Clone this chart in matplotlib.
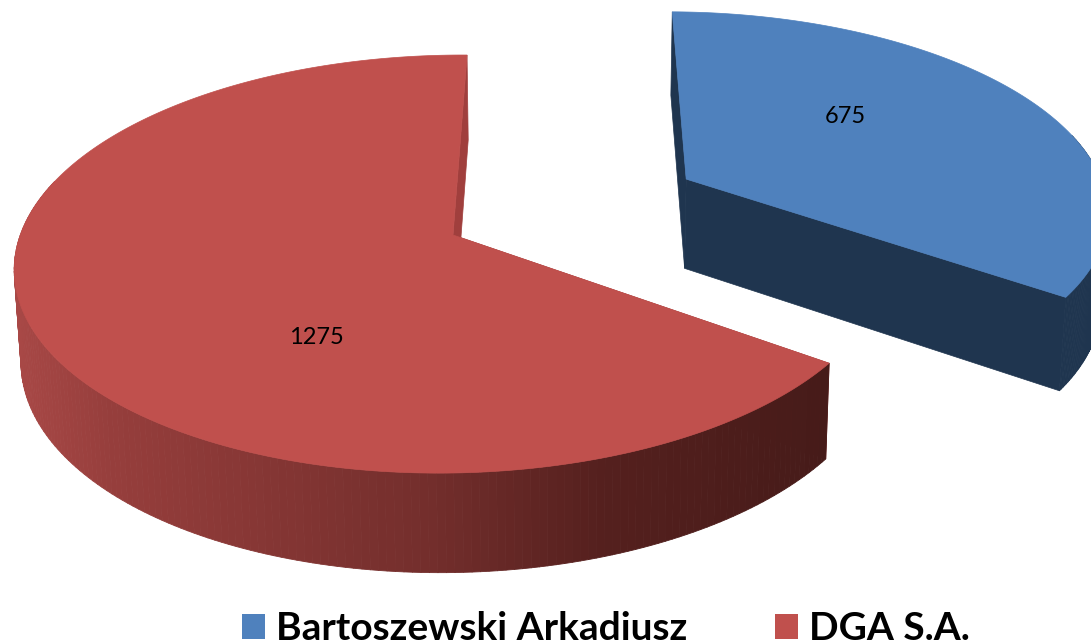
import numpy as np
import matplotlib
matplotlib.use("Agg")
import matplotlib.pyplot as plt
from matplotlib.patches import Polygon, Patch
from matplotlib.collections import PolyCollection

categories = ["Bartoszewski Arkadiusz", "DGA S.A."]
values = [675, 1275]
top_colors = ["#4F81BD", "#C0504D"]
inner_colors = ["#1F354F", "#A03F3D"]
explode = [0.622, 0.0]
label_pos = [(845, 116), (316, 337)]

# perspective projection of the unit-radius pie plane to pixels
CX, CY = 453.0, 235.0
A, C, D, B, K = 432.0, -16.0, 2.0, 205.0, 0.139


def project(u, v):
    w = 1 - K * v
    return CX + (A * u + C * v) / w, CY + (D * u + B * v) / w


def lower(x, y):
    return x + 0.0125 * (560 - x), y + 83 + 0.035 * y


def wall_color_red(x):
    xs = [14, 110, 250, 430, 600, 830]
    r = [168, 150, 135, 115, 85, 70]
    g = [72, 62, 55, 46, 32, 27]
    b = [70, 60, 53, 44, 30, 25]
    return (np.interp(x, xs, r) / 255, np.interp(x, xs, g) / 255, np.interp(x, xs, b) / 255)


fig = plt.figure(figsize=(10.91, 6.44), dpi=100, facecolor="white")
ax = fig.add_axes([0, 0, 1, 1])
ax.set_xlim(0, 1091)
ax.set_ylim(644, 0)
ax.axis("off")

total = sum(values)
start = 0.0
for i, val in enumerate(values):
    sweep = val / total * 2 * np.pi
    theta = np.linspace(start, start + sweep, 240)
    mid = start + sweep / 2
    u0, v0 = explode[i] * np.sin(mid), -explode[i] * np.cos(mid)
    xo, yo = project(u0 + np.sin(theta), v0 - np.cos(theta))
    xa, ya = project(u0, v0)
    xb, yb = lower(xo, yo)
    xab, yab = lower(xa, ya)

    # straight inner walls
    for j in (0, -1):
        ax.add_patch(Polygon([(xa, ya), (xo[j], yo[j]), (xb[j], yb[j]), (xab, yab)],
                             closed=True, fc=inner_colors[i], ec=inner_colors[i], lw=0.5, zorder=2))
    # curved outer wall: only the part that faces the viewer
    idx = [n for n in range(len(theta) - 1) if -np.cos(theta[n]) > -0.25]
    quads = [[(xo[n], yo[n]), (xo[n + 1], yo[n + 1]), (xb[n + 1], yb[n + 1]), (xb[n], yb[n])]
             for n in idx]
    if i == 0:
        cols = [inner_colors[0]] * len(quads)
    else:
        cols = [wall_color_red(0.5 * (xo[n] + xo[n + 1])) for n in idx]
    ax.add_collection(PolyCollection(quads, facecolors=cols, edgecolors=cols, linewidths=0.6, zorder=3))
    # top face
    ax.add_patch(Polygon(np.r_[[[xa, ya]], np.c_[xo, yo]], closed=True,
                         fc=top_colors[i], ec=top_colors[i], lw=0.5, zorder=4))
    ax.text(label_pos[i][0], label_pos[i][1], str(val), ha="center", va="center",
            fontsize=17, family="Lato", color="black", zorder=5)
    start += sweep

handles = [Patch(fc=c, ec="none", label=l) for c, l in zip(top_colors, categories)]
ax.legend(handles=handles, ncol=2, loc="lower left", bbox_to_anchor=(242, 646),
          bbox_transform=ax.transData, frameon=False, borderpad=0, borderaxespad=0,
          prop={"family": "Lato", "weight": "bold", "size": 28},
          handlelength=0.59, handleheight=0.59, handletextpad=0.28, columnspacing=2.26)

fig.savefig("out.png", dpi=100, facecolor="white")
